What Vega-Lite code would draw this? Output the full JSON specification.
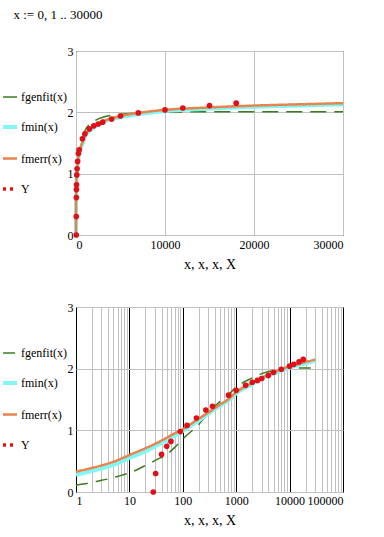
{
  "$schema": "https://vega.github.io/schema/vega-lite/v6.json",
  "padding": {"left": 0, "top": 8, "right": 5, "bottom": 5},
  "background": "white",
  "title": {"text": "x := 0, 1 .. 30000", "anchor": "start", "dx": 13, "font": "Liberation Serif", "fontSize": 13, "fontWeight": "normal", "color": "black", "offset": 23},
  "config": {
    "view": {"stroke": "black", "strokeWidth": 1},
    "axis": {"labelFont": "Liberation Serif", "labelFontSize": 12, "labelColor": "black", "titleFont": "Liberation Serif", "titleFontSize": 14, "titleFontWeight": "normal", "titleColor": "black", "ticks": false, "domain": false, "gridColor": "#c0c0c0", "gridOpacity": 1, "gridWidth": 1, "labelPadding": 3},
    "legend": {"orient": "left", "offset": 0, "labelFont": "Liberation Serif", "labelFontSize": 12, "labelColor": "black", "symbolType": "stroke", "symbolSize": 196, "labelOffset": 2, "rowPadding": 15, "titleFontSize": 12, "titlePadding": 26, "padding": 0, "labelLimit": 80}
  },
  "datasets": {
    "curves": [
      {"series": "fgenfit(x)", "x": 0, "y": 0},
      {"series": "fgenfit(x)", "x": 1, "y": 0.11},
      {"series": "fgenfit(x)", "x": 2, "y": 0.155},
      {"series": "fgenfit(x)", "x": 3, "y": 0.19},
      {"series": "fgenfit(x)", "x": 5, "y": 0.23},
      {"series": "fgenfit(x)", "x": 7, "y": 0.27},
      {"series": "fgenfit(x)", "x": 10, "y": 0.31},
      {"series": "fgenfit(x)", "x": 20, "y": 0.43},
      {"series": "fgenfit(x)", "x": 30, "y": 0.51},
      {"series": "fgenfit(x)", "x": 50, "y": 0.61},
      {"series": "fgenfit(x)", "x": 70, "y": 0.72},
      {"series": "fgenfit(x)", "x": 100, "y": 0.86},
      {"series": "fgenfit(x)", "x": 200, "y": 1.1},
      {"series": "fgenfit(x)", "x": 300, "y": 1.28},
      {"series": "fgenfit(x)", "x": 500, "y": 1.47},
      {"series": "fgenfit(x)", "x": 700, "y": 1.57},
      {"series": "fgenfit(x)", "x": 1000, "y": 1.7},
      {"series": "fgenfit(x)", "x": 2000, "y": 1.85},
      {"series": "fgenfit(x)", "x": 3000, "y": 1.92},
      {"series": "fgenfit(x)", "x": 5000, "y": 1.97},
      {"series": "fgenfit(x)", "x": 7000, "y": 1.99},
      {"series": "fgenfit(x)", "x": 10000, "y": 2.0},
      {"series": "fgenfit(x)", "x": 15000, "y": 2.01},
      {"series": "fgenfit(x)", "x": 20000, "y": 2.01},
      {"series": "fgenfit(x)", "x": 25000, "y": 2.01},
      {"series": "fgenfit(x)", "x": 30000, "y": 2.01},
      {"series": "fmin(x)", "x": 0, "y": 0},
      {"series": "fmin(x)", "x": 1, "y": 0.28},
      {"series": "fmin(x)", "x": 2, "y": 0.34},
      {"series": "fmin(x)", "x": 3, "y": 0.38},
      {"series": "fmin(x)", "x": 5, "y": 0.44},
      {"series": "fmin(x)", "x": 7, "y": 0.49},
      {"series": "fmin(x)", "x": 10, "y": 0.55},
      {"series": "fmin(x)", "x": 20, "y": 0.66},
      {"series": "fmin(x)", "x": 30, "y": 0.74},
      {"series": "fmin(x)", "x": 50, "y": 0.84},
      {"series": "fmin(x)", "x": 70, "y": 0.91},
      {"series": "fmin(x)", "x": 100, "y": 0.99},
      {"series": "fmin(x)", "x": 200, "y": 1.16},
      {"series": "fmin(x)", "x": 300, "y": 1.27},
      {"series": "fmin(x)", "x": 500, "y": 1.4},
      {"series": "fmin(x)", "x": 700, "y": 1.48},
      {"series": "fmin(x)", "x": 1000, "y": 1.6},
      {"series": "fmin(x)", "x": 2000, "y": 1.75},
      {"series": "fmin(x)", "x": 3000, "y": 1.84},
      {"series": "fmin(x)", "x": 5000, "y": 1.92},
      {"series": "fmin(x)", "x": 7000, "y": 1.97},
      {"series": "fmin(x)", "x": 10000, "y": 2.02},
      {"series": "fmin(x)", "x": 15000, "y": 2.06},
      {"series": "fmin(x)", "x": 20000, "y": 2.09},
      {"series": "fmin(x)", "x": 25000, "y": 2.11},
      {"series": "fmin(x)", "x": 30000, "y": 2.13},
      {"series": "fmerr(x)", "x": 0, "y": 0},
      {"series": "fmerr(x)", "x": 1, "y": 0.33},
      {"series": "fmerr(x)", "x": 2, "y": 0.39},
      {"series": "fmerr(x)", "x": 3, "y": 0.43},
      {"series": "fmerr(x)", "x": 5, "y": 0.49},
      {"series": "fmerr(x)", "x": 7, "y": 0.54},
      {"series": "fmerr(x)", "x": 10, "y": 0.6},
      {"series": "fmerr(x)", "x": 20, "y": 0.71},
      {"series": "fmerr(x)", "x": 30, "y": 0.78},
      {"series": "fmerr(x)", "x": 50, "y": 0.88},
      {"series": "fmerr(x)", "x": 70, "y": 0.95},
      {"series": "fmerr(x)", "x": 100, "y": 1.02},
      {"series": "fmerr(x)", "x": 200, "y": 1.19},
      {"series": "fmerr(x)", "x": 300, "y": 1.29},
      {"series": "fmerr(x)", "x": 500, "y": 1.42},
      {"series": "fmerr(x)", "x": 700, "y": 1.5},
      {"series": "fmerr(x)", "x": 1000, "y": 1.62},
      {"series": "fmerr(x)", "x": 2000, "y": 1.77},
      {"series": "fmerr(x)", "x": 3000, "y": 1.85},
      {"series": "fmerr(x)", "x": 5000, "y": 1.94},
      {"series": "fmerr(x)", "x": 7000, "y": 1.99},
      {"series": "fmerr(x)", "x": 10000, "y": 2.04},
      {"series": "fmerr(x)", "x": 15000, "y": 2.08},
      {"series": "fmerr(x)", "x": 20000, "y": 2.11},
      {"series": "fmerr(x)", "x": 25000, "y": 2.13},
      {"series": "fmerr(x)", "x": 30000, "y": 2.15}
    ],
    "points": [
      {"X": 28, "Y": 0.0},
      {"X": 31, "Y": 0.30},
      {"X": 40, "Y": 0.61},
      {"X": 50, "Y": 0.74},
      {"X": 60, "Y": 0.82},
      {"X": 90, "Y": 0.98},
      {"X": 120, "Y": 1.08},
      {"X": 180, "Y": 1.2},
      {"X": 270, "Y": 1.33},
      {"X": 360, "Y": 1.39},
      {"X": 720, "Y": 1.57},
      {"X": 1000, "Y": 1.65},
      {"X": 1500, "Y": 1.73},
      {"X": 2000, "Y": 1.78},
      {"X": 2500, "Y": 1.81},
      {"X": 3000, "Y": 1.84},
      {"X": 4000, "Y": 1.89},
      {"X": 5000, "Y": 1.94},
      {"X": 7000, "Y": 1.99},
      {"X": 10000, "Y": 2.04},
      {"X": 12000, "Y": 2.07},
      {"X": 15000, "Y": 2.11},
      {"X": 18000, "Y": 2.15}
    ]
  },
  "resolve": {"scale": {"color": "independent", "strokeDash": "independent", "strokeWidth": "independent"}, "legend": {"color": "independent", "strokeDash": "independent", "strokeWidth": "independent"}},
  "spacing": 28,
  "vconcat": [
    {
      "width": 267,
      "height": 184,
      "layer": [
        {
          "data": {"name": "curves"},
          "mark": {"type": "line", "interpolate": "monotone"},
          "encoding": {
            "x": {"field": "x", "type": "quantitative", "scale": {"domain": [0, 30000], "nice": false}, "axis": {"values": [0, 10000, 20000, 30000], "format": "d", "title": "x, x, x, X", "titlePadding": 7, "labelPadding": 4}},
            "y": {"field": "y", "type": "quantitative", "scale": {"domain": [0, 3], "nice": false}, "axis": {"values": [0, 1, 2, 3], "format": "d", "title": null}},
            "color": {"field": "series", "type": "nominal", "scale": {"domain": ["fgenfit(x)", "fmin(x)", "fmerr(x)", "Y"], "range": ["#3b7d1e", "#80f8f8", "#e8834a", "#e01018"]}, "legend": {"title": " ", "labelFont": "Liberation Serif"}},
            "strokeDash": {"field": "series", "type": "nominal", "scale": {"domain": ["fgenfit(x)", "fmin(x)", "fmerr(x)", "Y"], "range": [[16, 8], [1, 0], [1, 0], [3, 4]]}, "legend": {"title": " ", "labelFont": "Liberation Serif"}},
            "strokeWidth": {"field": "series", "type": "nominal", "scale": {"type": "ordinal", "domain": ["fgenfit(x)", "fmin(x)", "fmerr(x)", "Y"], "range": [1.5, 4, 2.5, 3.5]}, "legend": {"title": " ", "labelFont": "Liberation Serif"}},
            "order": {"field": "x", "type": "quantitative"}
          }
        },
        {
          "data": {"name": "points"},
          "mark": {"type": "point", "filled": true, "size": 32, "color": "#e01018", "opacity": 1},
          "encoding": {
            "x": {"field": "X", "type": "quantitative"},
            "y": {"field": "Y", "type": "quantitative"}
          }
        }
      ]
    },
    {
      "width": 267,
      "height": 185,
      "layer": [
        {
          "data": {"name": "curves"},
          "transform": [{"filter": "datum.x > 0"}],
          "mark": {"type": "line", "interpolate": "monotone"},
          "encoding": {
            "x": {"field": "x", "type": "quantitative", "scale": {"type": "log", "domain": [1, 100000], "nice": false}, "axis": {"values": [1,2,3,4,5,6,7,8,9,10,20,30,40,50,60,70,80,90,100,200,300,400,500,600,700,800,900,1000,2000,3000,4000,5000,6000,7000,8000,9000,10000,20000,30000,40000,50000,60000,70000,80000,90000,100000], "format": "d", "labelExpr": "indexof([1,10,100,1000,10000,100000], datum.value) >= 0 ? datum.label : ''", "gridColor": {"condition": {"test": "indexof([1,10,100,1000,10000,100000], datum.value) >= 0", "value": "black"}, "value": "#c0c0c0"}, "labelOverlap": false, "title": "x, x, x, X", "titlePadding": 7, "labelPadding": 3}},
            "y": {"field": "y", "type": "quantitative", "scale": {"domain": [0, 3], "nice": false}, "axis": {"values": [0, 1, 2, 3], "format": "d", "title": null}},
            "color": {"field": "series", "type": "nominal", "scale": {"domain": ["fgenfit(x)", "fmin(x)", "fmerr(x)", "Y"], "range": ["#3b7d1e", "#80f8f8", "#e8834a", "#e01018"]}, "legend": {"title": " ", "labelFont": "Liberation Serif"}},
            "strokeDash": {"field": "series", "type": "nominal", "scale": {"domain": ["fgenfit(x)", "fmin(x)", "fmerr(x)", "Y"], "range": [[12, 8], [1, 0], [1, 0], [3, 4]]}, "legend": {"title": " ", "labelFont": "Liberation Serif"}},
            "strokeWidth": {"field": "series", "type": "nominal", "scale": {"type": "ordinal", "domain": ["fgenfit(x)", "fmin(x)", "fmerr(x)", "Y"], "range": [1.5, 4, 2.5, 3.5]}, "legend": {"title": " ", "labelFont": "Liberation Serif"}},
            "order": {"field": "x", "type": "quantitative"}
          }
        },
        {
          "data": {"name": "points"},
          "mark": {"type": "point", "filled": true, "size": 32, "color": "#e01018", "opacity": 1},
          "encoding": {
            "x": {"field": "X", "type": "quantitative"},
            "y": {"field": "Y", "type": "quantitative"}
          }
        }
      ]
    }
  ]
}
